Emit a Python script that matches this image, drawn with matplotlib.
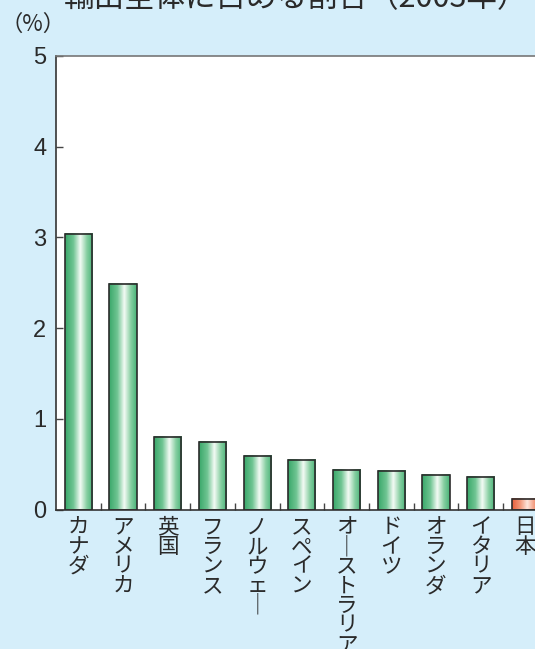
import numpy as np
import matplotlib
matplotlib.use('Agg')
import matplotlib.pyplot as plt
from matplotlib.colors import LinearSegmentedColormap

plt.rcParams['font.family'] = ['Noto Sans CJK JP', 'DejaVu Sans']

# ── Data ───────────────────────────────────────────────────────────────────
countries = ['カナダ', 'アメリカ', '英国', 'フランス', 'ノルウェー', 'スペイン',
             'オーストラリア', 'ドイツ', 'オランダ', 'イタリア', '日本']
shares = [3.04, 2.49, 0.80, 0.74, 0.59, 0.545, 0.435, 0.42, 0.38, 0.355, 0.115]
highlight = '日本'

title = '輸出全体に占める割合（2003年）'
unit_label = '（%）'
y_ticks = [0, 1, 2, 3, 4, 5]

# ── Styles ─────────────────────────────────────────────────────────────────
BG = '#d5eefa'
TEXT = '#2a2a2a'
green_cmap = LinearSegmentedColormap.from_list('g', [
    (0.0, '#3aa86a'), (0.3, '#70c593'), (0.55, '#f4fbf5'),
    (0.78, '#8ad0a4'), (1.0, '#48b377')])
red_cmap = LinearSegmentedColormap.from_list('r', [
    (0.0, '#e8603c'), (0.3, '#f29a7c'), (0.55, '#fde6dc'),
    (0.78, '#f4a287'), (1.0, '#ea6a45')])


def vertical(label):
    # tategaki: stack characters, long-vowel mark turns vertical
    return '\n'.join('｜' if c == 'ー' else c for c in label)


fig = plt.figure(figsize=(5.35, 6.49), dpi=100, facecolor=BG)
ax = fig.add_axes([56 / 535, 139.5 / 649, 491.7 / 535, 453.5 / 649])
ax.set_facecolor('white')

x = np.arange(len(countries))
width = 0.61
grad = np.linspace(0, 1, 64).reshape(1, -1)

for xi, name, val in zip(x, countries, shares):
    cmap = red_cmap if name == highlight else green_cmap
    ax.imshow(grad, cmap=cmap, aspect='auto', interpolation='bilinear',
              extent=(xi - width / 2, xi + width / 2, 0, val), zorder=2)

ax.bar(x, shares, width=width, facecolor='none', edgecolor='#2b2b2b',
       linewidth=1.2, zorder=3)

ax.set_xlim(-0.5, len(countries) - 0.5)
ax.set_ylim(0, 5)

ax.set_yticks(y_ticks)
ax.set_yticklabels([str(t) for t in y_ticks], fontfamily='Liberation Sans',
                   fontsize=17, color=TEXT)
ax.tick_params(axis='y', direction='in', length=5, width=1, color='#444',
               pad=7)

ax.set_xticks(x)
ax.set_xticklabels([vertical(c) for c in countries], fontsize=15.5,
                   color=TEXT, linespacing=0.86, va='top')
ax.set_xticks(x[:-1] + 0.5, minor=True)
ax.tick_params(axis='x', which='major', length=0, pad=5)
ax.tick_params(axis='x', which='minor', direction='in', length=5, width=1,
               color='#444')

for side in ['left', 'bottom']:
    ax.spines[side].set_color('#333333')
    ax.spines[side].set_linewidth(1.2)
ax.spines['top'].set_color('#777777')
ax.spines['top'].set_linewidth(1.2)
ax.spines['right'].set_visible(False)

fig.text(0, 1 - 31 / 649, unit_label, fontsize=16, color=TEXT,
         va='baseline', ha='left')
fig.text(296 / 535, 1 - 7 / 649, title, fontsize=22, color=TEXT,
         va='baseline', ha='center')

fig.savefig('out.png', dpi=100, facecolor=BG)
